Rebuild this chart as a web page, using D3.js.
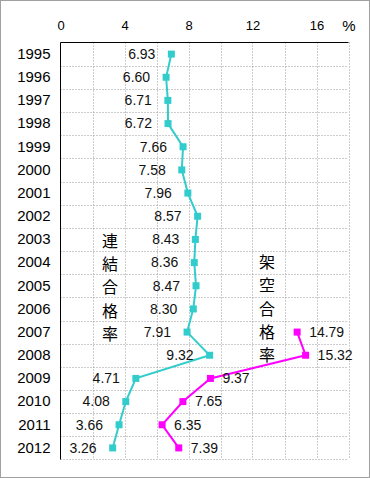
<!DOCTYPE html>
<html><head><meta charset="utf-8">
<script src="https://cdn.jsdelivr.net/npm/d3@7"></script>
<style>body{margin:0;background:#fff}svg{display:block}</style>
</head><body>
<script>
const years = ["1995","1996","1997","1998","1999","2000","2001","2002","2003","2004","2005","2006","2007","2008","2009","2010","2011","2012"];
const renketsu = [6.93,6.60,6.71,6.72,7.66,7.58,7.96,8.57,8.43,8.36,8.47,8.30,7.91,9.32,4.71,4.08,3.66,3.26];
const kakuYears = ["2007","2008","2009","2010","2011","2012"];
const kakuu = [14.79,15.32,9.37,7.65,6.35,7.39];
const xTicks = [0,4,8,12,16];
const label1 = "連結合格率";
const label2 = "架空合格率";

const W=370,H=478;
const svg=d3.select("body").append("svg").attr("width",W).attr("height",H);
svg.append("rect").attr("x",0.5).attr("y",0.5).attr("width",W-1).attr("height",H-1).attr("fill","#fff").attr("stroke","#a0a0a0");
const L=60.5,T=42.5,R=348.5,B=459.5;
const x=d3.scaleLinear().domain([0,18]).range([L,R]);
const y=d3.scaleBand().domain(years).range([T,B]);
const font="'Liberation Sans', Arial, sans-serif";
const g=svg.append("g");
// grid
g.selectAll("line.vg").data(d3.range(2,19,2)).join("line")
 .attr("x1",d=>Math.round(x(d))+0.5).attr("x2",d=>Math.round(x(d))+0.5).attr("y1",T).attr("y2",B)
 .attr("stroke","#999").attr("stroke-dasharray","1,2");
g.selectAll("line.hg").data(years.slice(1).concat(["end"])).join("line")
 .attr("x1",L).attr("x2",R)
 .attr("y1",d=>d==="end"?B:Math.round(y(d))+0.5).attr("y2",d=>d==="end"?B:Math.round(y(d))+0.5)
 .attr("stroke","#999").attr("stroke-dasharray","1,2");
g.append("line").attr("x1",L).attr("x2",R).attr("y1",T).attr("y2",T).attr("stroke","#000");
g.append("line").attr("x1",L).attr("x2",L).attr("y1",T).attr("y2",B).attr("stroke","#000");
// top axis labels
const xa=d3.axisTop(x).tickValues(xTicks).tickSize(0).tickPadding(0);
const ax=svg.append("g").attr("transform",`translate(0,${T-10})`).call(xa);
ax.select(".domain").remove();
ax.selectAll("text").attr("font-family",font).attr("font-size",13).attr("fill","#000").attr("dy","-0.2em");
svg.append("text").attr("x",349).attr("y",31).attr("text-anchor","middle").attr("font-family",font).attr("font-size",15).text("%");
// y labels
const ya=d3.axisLeft(y).tickSize(0).tickPadding(10);
const ay=svg.append("g").attr("transform",`translate(${L},0)`).call(ya);
ay.select(".domain").remove();
ay.selectAll("text").attr("font-family",font).attr("font-size",15).attr("fill","#000");
const cy=d=>y(d)+y.bandwidth()/2;
// series
const c1="#33CCCC",c2="#FF00FF";
const d1=years.map((yr,i)=>({yr,v:renketsu[i]}));
const d2=kakuYears.map((yr,i)=>({yr,v:kakuu[i]}));
const line=d3.line().x(d=>x(d.v)).y(d=>cy(d.yr));
svg.append("path").datum(d1).attr("d",line).attr("fill","none").attr("stroke",c1).attr("stroke-width",2);
svg.selectAll("rect.m1").data(d1).join("rect").attr("x",d=>x(d.v)-3.5).attr("y",d=>cy(d.yr)-3.5).attr("width",7).attr("height",7).attr("fill",c1);
svg.append("path").datum(d2).attr("d",line).attr("fill","none").attr("stroke",c2).attr("stroke-width",2);
svg.selectAll("rect.m2").data(d2).join("rect").attr("x",d=>x(d.v)-3.5).attr("y",d=>cy(d.yr)-3.5).attr("width",7).attr("height",7).attr("fill",c2);
// value labels
svg.selectAll("text.l1").data(d1).join("text").attr("x",d=>x(d.v)-16).attr("y",d=>cy(d.yr)).attr("dy","0.35em")
 .attr("text-anchor","end").attr("font-family",font).attr("font-size",14).attr("fill","#111").text(d=>d.v.toFixed(2));
svg.selectAll("text.l2").data(d2).join("text").attr("x",d=>x(d.v)+12).attr("y",d=>cy(d.yr)).attr("dy","0.35em")
 .attr("text-anchor","start").attr("font-family",font).attr("font-size",14).attr("fill","#111").text(d=>d.v.toFixed(2));
// vertical titles
const jf="'Noto Sans CJK JP', sans-serif";
function vtitle(str,xc,startIdx,off){
  svg.selectAll(null).data(str.split("")).join("text").attr("text-anchor","middle").attr("font-family",jf)
   .attr("font-size",16).attr("fill","#000")
   .attr("x",xc).attr("y",(d,i)=>cy(years[startIdx+i])+off).attr("dy","0.35em").text(d=>d);
}
vtitle(label1,110,8,2);
vtitle(label2,267,9,0);
</script>
</body></html>
